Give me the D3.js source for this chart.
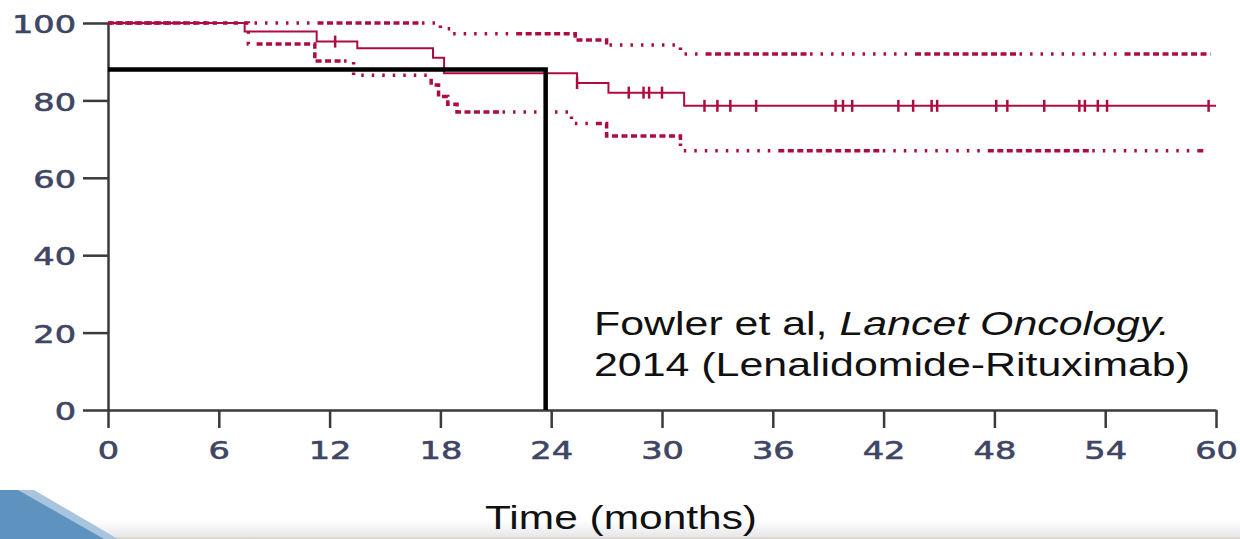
<!DOCTYPE html>
<html>
<head>
<meta charset="utf-8">
<script src="https://cdn.jsdelivr.net/npm/d3@7"></script>
<style>
  html, body { margin: 0; padding: 0; background: #fff; }
  svg { display: block; }
</style>
</head>
<body>
<svg id="km-chart" width="1240" height="539"></svg>
<script>
// tick labels
const monthTicks = [0, 6, 12, 18, 24, 30, 36, 42, 48, 54, 60];
const pctTicks = [0, 20, 40, 60, 80, 100];

// Kaplan-Meier estimate (months, % progression free)
const kmTime = [0, 7.4, 11.3, 13.5, 17.6, 18.2, 25.4, 27.1, 31.2, 60];
const kmSurv = [100, 97.8, 95.2, 93.5, 91, 87, 84.5, 82, 78.6, 78.6];

// censored observations
const censorTime = [12.3, 25.4, 28.2, 29.0, 29.3, 30.0, 32.3, 33.0, 33.7, 35.1, 39.4, 39.8, 40.3,
                    42.8, 43.6, 44.6, 44.9, 48.1, 48.7, 50.7, 52.6, 52.9, 53.6, 54.1, 59.6];

// 95% confidence bands
const upperTime = [0, 18.0, 18.6, 25.3, 27.0, 31.0, 59.7];
const upperSurv = [100, 98.5, 97.2, 95.6, 94.3, 92, 92];
const lowerTime = [0, 7.6, 11.2, 13.3, 17.5, 17.9, 18.4, 18.9, 25.1, 27.0, 31.0, 59.4];
const lowerSurv = [100, 94.6, 90.2, 86.5, 84, 81, 79, 77, 74, 70.8, 67, 67];

// 2-year reference marker
const refTime = [0, 23.7, 23.7];
const refSurv = [88, 88, 0];

const svg = d3.select("#km-chart");
const red = "#ad0c40";
const labelColor = "#3f4664";

// bottom slide decoration
const defs = svg.append("defs");
const grad = defs.append("linearGradient").attr("id", "floor").attr("x1", 0).attr("y1", 0).attr("x2", 0).attr("y2", 1);
grad.append("stop").attr("offset", "0%").attr("stop-color", "#ffffff");
grad.append("stop").attr("offset", "100%").attr("stop-color", "#e6e6e8");
svg.append("rect").attr("x", 0).attr("y", 520).attr("width", 1240).attr("height", 18).attr("fill", "url(#floor)");
svg.append("rect").attr("x", 0).attr("y", 537).attr("width", 1240).attr("height", 2).attr("fill", "#dcd8cf");
svg.append("polygon").attr("points", "0,490 34,490 118,539 0,539").attr("fill", "#a9c5de");
svg.append("polygon").attr("points", "0,490 18,490 104,539 0,539").attr("fill", "#5e93bf");

const x = d3.scaleLinear().domain([0, 60]).range([108, 1216]);
const y = d3.scaleLinear().domain([0, 100]).range([410, 23]);

// axes
const gy = svg.append("g").attr("transform", `translate(${x(0)},0)`)
    .call(d3.axisLeft(y).tickValues(pctTicks).tickSize(25).tickSizeOuter(0).tickPadding(0));
const gx = svg.append("g").attr("transform", `translate(0,${y(0)})`)
    .call(d3.axisBottom(x).tickValues(monthTicks).tickSize(18).tickSizeOuter(0));

svg.selectAll(".domain, .tick line").attr("stroke", "#3a3a3a").attr("stroke-width", 2.5);

gy.selectAll(".tick text")
    .attr("x", -32 / 1.4).attr("dy", "0.4em")
    .attr("transform", "scale(1.4,1)")
    .style("font-family", "DejaVu Sans").style("font-size", "24px")
    .attr("fill", labelColor).attr("stroke", labelColor).attr("stroke-width", 0.6);

gx.selectAll(".tick text")
    .attr("y", 49).attr("dy", 0)
    .attr("transform", "scale(1.4,1)")
    .style("font-family", "DejaVu Sans").style("font-size", "24px")
    .attr("fill", labelColor).attr("stroke", labelColor).attr("stroke-width", 0.6);

const stepLine = d3.line().x(d => x(d[0])).y(d => y(d[1])).curve(d3.curveStepAfter);

// dotted band pattern: run of short dashes, then run of dots
let dash = [];
for (let i = 0; i < 11; i++) dash.push(6, 3.5);
for (let i = 0; i < 10; i++) dash.push(2.5, 8);
const dashStr = dash.join(",");

svg.append("path")
    .attr("d", stepLine(d3.zip(upperTime, upperSurv)))
    .attr("fill", "none").attr("stroke", red).attr("stroke-width", 3.5)
    .attr("stroke-dasharray", dashStr);

svg.append("path")
    .attr("d", stepLine(d3.zip(lowerTime, lowerSurv)))
    .attr("fill", "none").attr("stroke", red).attr("stroke-width", 3.5)
    .attr("stroke-dasharray", dashStr).attr("stroke-dashoffset", 40);

svg.append("path")
    .attr("d", stepLine(d3.zip(kmTime, kmSurv)))
    .attr("fill", "none").attr("stroke", red).attr("stroke-width", 2);

const survAt = t => kmSurv[Math.max(0, d3.bisectRight(kmTime, t) - 1)];

svg.append("g").selectAll("line.censor")
    .data(censorTime).join("line").attr("class", "censor")
    .attr("x1", d => x(d)).attr("x2", d => x(d))
    .attr("y1", d => y(survAt(d)) - 6).attr("y2", d => y(survAt(d)) + 6)
    .attr("stroke", red).attr("stroke-width", 2.5);

// reference lines at 24 months
svg.append("path")
    .attr("d", d3.line().x(d => x(d[0])).y(d => y(d[1]))(d3.zip(refTime, refSurv)))
    .attr("fill", "none").attr("stroke", "#000").attr("stroke-width", 4.5)
    .attr("stroke-linejoin", "miter");

// citation
const cite1 = svg.append("text").attr("x", 594).attr("y", 335)
    .attr("textLength", 576).attr("lengthAdjust", "spacingAndGlyphs")
    .style("font-family", "Liberation Sans, Arial, sans-serif").style("font-size", "34px").attr("fill", "#111");
cite1.append("tspan").text("Fowler et al, ");
cite1.append("tspan").style("font-style", "italic").text("Lancet Oncology.");

svg.append("text").attr("x", 594).attr("y", 376)
    .attr("textLength", 596).attr("lengthAdjust", "spacingAndGlyphs")
    .style("font-family", "Liberation Sans, Arial, sans-serif").style("font-size", "34px").attr("fill", "#111")
    .text("2014 (Lenalidomide-Rituximab)");

svg.append("text").attr("x", 485).attr("y", 529)
    .attr("textLength", 272).attr("lengthAdjust", "spacingAndGlyphs")
    .style("font-family", "Liberation Sans, Arial, sans-serif").style("font-size", "33px").attr("fill", "#111")
    .text("Time (months)");
</script>
</body>
</html>
